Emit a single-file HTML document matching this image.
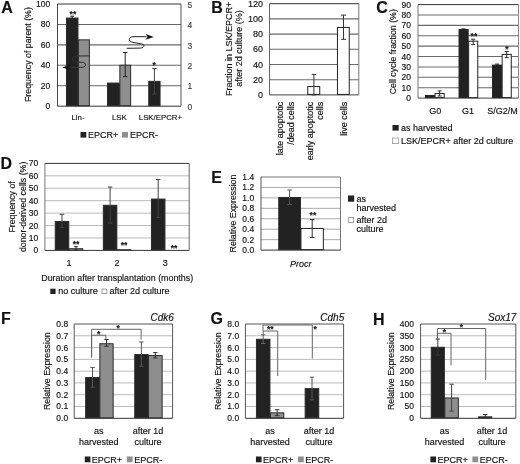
<!DOCTYPE html><html><head><meta charset="utf-8"><style>html,body{margin:0;padding:0;background:#fff;}svg{display:block;will-change:transform;filter:blur(0.35px);}text{font-family:"Liberation Sans", sans-serif;fill:#111;stroke:#111;stroke-width:0.15px;}</style></head><body>
<svg width="520" height="464" viewBox="0 0 520 464">
<rect width="520" height="464" fill="#fff"/>
<text x="1.2" y="13.3" font-size="16" text-anchor="start" font-weight="bold">A</text>
<line x1="57.5" y1="85.76" x2="181" y2="85.76" stroke="#666" stroke-width="1.1"/>
<line x1="57.5" y1="65.32" x2="181" y2="65.32" stroke="#666" stroke-width="1.1"/>
<line x1="57.5" y1="44.88" x2="181" y2="44.88" stroke="#666" stroke-width="1.1"/>
<line x1="57.5" y1="24.44" x2="181" y2="24.44" stroke="#666" stroke-width="1.1"/>
<line x1="57.5" y1="4" x2="181" y2="4" stroke="#333" stroke-width="1"/>
<line x1="181" y1="4" x2="181" y2="106.2" stroke="#555" stroke-width="1"/>
<line x1="57.5" y1="106.2" x2="181" y2="106.2" stroke="#333" stroke-width="1"/>
<line x1="57.5" y1="4" x2="57.5" y2="106.2" stroke="#444" stroke-width="1"/>
<text x="50.2" y="6.97" font-size="8.5" text-anchor="end">100</text>
<text x="50.2" y="27.41" font-size="8.5" text-anchor="end">80</text>
<text x="50.2" y="47.86" font-size="8.5" text-anchor="end">60</text>
<text x="50.2" y="68.29" font-size="8.5" text-anchor="end">40</text>
<text x="50.2" y="88.73" font-size="8.5" text-anchor="end">20</text>
<text x="50.2" y="109.17" font-size="8.5" text-anchor="end">0</text>
<text x="187.5" y="7.68" font-size="8.5" text-anchor="start" style="fill:#444;stroke:#444">5</text>
<text x="187.5" y="28.12" font-size="8.5" text-anchor="start" style="fill:#444;stroke:#444">4</text>
<text x="187.5" y="48.56" font-size="8.5" text-anchor="start" style="fill:#444;stroke:#444">3</text>
<text x="187.5" y="69" font-size="8.5" text-anchor="start" style="fill:#444;stroke:#444">2</text>
<text x="187.5" y="89.44" font-size="8.5" text-anchor="start" style="fill:#444;stroke:#444">1</text>
<text x="187.5" y="109.88" font-size="8.5" text-anchor="start" style="fill:#444;stroke:#444">0</text>
<rect x="66.45" y="18.05" width="11.5" height="87.65" fill="#222" stroke="#2a2a2a" stroke-width="1"/>
<rect x="78.45" y="39.85" width="10.9" height="65.85" fill="#8e8e8e" stroke="#2a2a2a" stroke-width="1"/>
<rect x="107.55" y="83.05" width="11.8" height="22.65" fill="#222" stroke="#2a2a2a" stroke-width="1"/>
<rect x="119.85" y="65.25" width="10.8" height="40.45" fill="#8e8e8e" stroke="#2a2a2a" stroke-width="1"/>
<rect x="148.75" y="81.35" width="11.3" height="24.35" fill="#222" stroke="#2a2a2a" stroke-width="1"/>
<line x1="72.2" y1="16.2" x2="72.2" y2="19.5" stroke="#222" stroke-width="1"/>
<line x1="70.2" y1="16.2" x2="74.2" y2="16.2" stroke="#222" stroke-width="1"/>
<line x1="70.2" y1="19.5" x2="74.2" y2="19.5" stroke="#222" stroke-width="1"/>
<line x1="125.2" y1="52.5" x2="125.2" y2="76.6" stroke="#222" stroke-width="1"/>
<line x1="122.95" y1="52.5" x2="127.45" y2="52.5" stroke="#222" stroke-width="1"/>
<line x1="122.95" y1="76.6" x2="127.45" y2="76.6" stroke="#222" stroke-width="1"/>
<line x1="154.4" y1="68.6" x2="154.4" y2="94.1" stroke="#444" stroke-width="1"/>
<line x1="152.15" y1="68.6" x2="156.65" y2="68.6" stroke="#444" stroke-width="1"/>
<line x1="152.15" y1="94.1" x2="156.65" y2="94.1" stroke="#444" stroke-width="1"/>
<text x="72.9" y="16.75" font-size="8.5" text-anchor="middle" font-weight="bold">**</text>
<text x="154.2" y="67.75" font-size="8.5" text-anchor="middle" font-weight="bold">*</text>
<path d="M126.75,48.3 L140.3,48.1 C145,47.8 145.2,43.9 140.3,43.7 L133,42.4 C128,41.5 128.2,36.9 133,36.7 L146.5,36.7" fill="none" stroke="#222" stroke-width="1"/><path d="M153.8,36.9 L145.6,33.9 L147.6,36.9 L145.4,39.8 Z" fill="#111"/>
<defs><clipPath id="cpA"><rect x="66" y="40" width="12.4" height="40"/></clipPath><clipPath id="cpB"><rect x="78.4" y="40" width="20" height="40"/></clipPath></defs>
<path d="M88.8,55.9 L76,56 C71.3,56.2 71.3,61.9 76,62.1 L82.3,62.3 C86.6,62.5 86.6,67.1 82.3,67.3 L68.5,67.3" fill="none" stroke="#3a3a3a" stroke-width="1" clip-path="url(#cpA)"/>
<path d="M88.8,55.9 L76,56 C71.3,56.2 71.3,61.9 76,62.1 L82.3,62.3 C86.6,62.5 86.6,67.1 82.3,67.3 L68.5,67.3" fill="none" stroke="#2a2a2a" stroke-width="1" clip-path="url(#cpB)"/>
<path d="M62,67.4 L71.2,64.5 L69,67.4 L71.2,70.3 Z" fill="#111"/>
<text x="78" y="120" font-size="7.8" text-anchor="middle">Lin-</text>
<text x="119.4" y="120" font-size="7.8" text-anchor="middle">LSK</text>
<text x="160.4" y="120" font-size="7.8" text-anchor="middle">LSK/EPCR+</text>
<text transform="translate(28,54.6) rotate(-90)" x="0" y="3.08" font-size="8.8" text-anchor="middle">Frequency of parent (%)</text>
<rect x="80.5" y="132" width="5.8" height="5.6" fill="#222"/>
<text x="88" y="138.4" font-size="9" text-anchor="start">EPCR+</text>
<rect x="122" y="132" width="6" height="5.6" fill="#8e8e8e"/>
<text x="130" y="138.4" font-size="9" text-anchor="start">EPCR-</text>
<text x="211.3" y="12.7" font-size="16" text-anchor="start" font-weight="bold">B</text>
<line x1="269.5" y1="79.7" x2="358.8" y2="79.7" stroke="#6a6a6a" stroke-width="1.1"/>
<line x1="269.5" y1="64.5" x2="358.8" y2="64.5" stroke="#6a6a6a" stroke-width="1.1"/>
<line x1="269.5" y1="49.3" x2="358.8" y2="49.3" stroke="#6a6a6a" stroke-width="1.1"/>
<line x1="269.5" y1="34.1" x2="358.8" y2="34.1" stroke="#6a6a6a" stroke-width="1.1"/>
<line x1="269.5" y1="18.9" x2="358.8" y2="18.9" stroke="#6a6a6a" stroke-width="1.1"/>
<line x1="269.5" y1="3.7" x2="358.8" y2="3.7" stroke="#333" stroke-width="1"/>
<line x1="358.8" y1="3.7" x2="358.8" y2="94.9" stroke="#777" stroke-width="1"/>
<line x1="269.5" y1="94.9" x2="358.8" y2="94.9" stroke="#444" stroke-width="1"/>
<line x1="269.5" y1="3.7" x2="269.5" y2="94.9" stroke="#666" stroke-width="1"/>
<text x="263" y="6.85" font-size="9" text-anchor="end">120</text>
<text x="263" y="22.05" font-size="9" text-anchor="end">100</text>
<text x="263" y="37.25" font-size="9" text-anchor="end">80</text>
<text x="263" y="52.45" font-size="9" text-anchor="end">60</text>
<text x="263" y="67.65" font-size="9" text-anchor="end">40</text>
<text x="263" y="82.85" font-size="9" text-anchor="end">20</text>
<text x="263" y="98.05" font-size="9" text-anchor="end">0</text>
<rect x="307.75" y="86.55" width="12" height="7.85" fill="#fff" stroke="#222" stroke-width="1"/>
<rect x="337.45" y="27.45" width="11.8" height="66.95" fill="#fff" stroke="#222" stroke-width="1"/>
<line x1="313.9" y1="74.4" x2="313.9" y2="94.9" stroke="#333" stroke-width="1"/>
<line x1="311.65" y1="74.4" x2="316.15" y2="74.4" stroke="#333" stroke-width="1"/>
<line x1="311.65" y1="94.9" x2="316.15" y2="94.9" stroke="#333" stroke-width="1"/>
<line x1="343.5" y1="15.1" x2="343.5" y2="39.3" stroke="#333" stroke-width="1"/>
<line x1="341" y1="15.1" x2="346" y2="15.1" stroke="#333" stroke-width="1"/>
<line x1="341" y1="39.3" x2="346" y2="39.3" stroke="#333" stroke-width="1"/>
<text transform="translate(229.2,48.8) rotate(-90)" x="0" y="3.15" font-size="9" text-anchor="middle">Fraction in LSK/EPCR+</text>
<text transform="translate(239.2,48.5) rotate(-90)" x="0" y="3.15" font-size="9" text-anchor="middle">after 2d culture (%)</text>
<text transform="translate(279.6,101.8) rotate(-90)" x="0" y="3.15" font-size="9" text-anchor="end">late apoptotic</text>
<text transform="translate(291,101.8) rotate(-90)" x="0" y="3.15" font-size="9" text-anchor="end">/dead cells</text>
<text transform="translate(309.4,101.8) rotate(-90)" x="0" y="3.15" font-size="9" text-anchor="end">early apoptotic</text>
<text transform="translate(319.4,101.8) rotate(-90)" x="0" y="3.15" font-size="9" text-anchor="end">cells</text>
<text transform="translate(343.8,101.8) rotate(-90)" x="0" y="3.15" font-size="9" text-anchor="end">live cells</text>
<text x="376.3" y="13" font-size="16" text-anchor="start" font-weight="bold">C</text>
<line x1="418" y1="87.71" x2="518.5" y2="87.71" stroke="#6a6a6a" stroke-width="1.1"/>
<line x1="418" y1="77.32" x2="518.5" y2="77.32" stroke="#6a6a6a" stroke-width="1.1"/>
<line x1="418" y1="66.93" x2="518.5" y2="66.93" stroke="#6a6a6a" stroke-width="1.1"/>
<line x1="418" y1="56.54" x2="518.5" y2="56.54" stroke="#6a6a6a" stroke-width="1.1"/>
<line x1="418" y1="46.16" x2="518.5" y2="46.16" stroke="#6a6a6a" stroke-width="1.1"/>
<line x1="418" y1="35.77" x2="518.5" y2="35.77" stroke="#6a6a6a" stroke-width="1.1"/>
<line x1="418" y1="25.38" x2="518.5" y2="25.38" stroke="#6a6a6a" stroke-width="1.1"/>
<line x1="418" y1="14.99" x2="518.5" y2="14.99" stroke="#6a6a6a" stroke-width="1.1"/>
<line x1="418" y1="4.6" x2="518.5" y2="4.6" stroke="#333" stroke-width="1"/>
<line x1="518.5" y1="4.6" x2="518.5" y2="98.1" stroke="#888" stroke-width="1"/>
<line x1="418" y1="98.1" x2="518.5" y2="98.1" stroke="#444" stroke-width="1"/>
<line x1="418" y1="4.6" x2="418" y2="98.1" stroke="#777" stroke-width="1"/>
<text x="411" y="7.57" font-size="8.5" text-anchor="end">90</text>
<text x="411" y="17.96" font-size="8.5" text-anchor="end">80</text>
<text x="411" y="28.35" font-size="8.5" text-anchor="end">70</text>
<text x="411" y="38.74" font-size="8.5" text-anchor="end">60</text>
<text x="411" y="49.13" font-size="8.5" text-anchor="end">50</text>
<text x="411" y="59.52" font-size="8.5" text-anchor="end">40</text>
<text x="411" y="69.91" font-size="8.5" text-anchor="end">30</text>
<text x="411" y="80.3" font-size="8.5" text-anchor="end">20</text>
<text x="411" y="90.69" font-size="8.5" text-anchor="end">10</text>
<text x="411" y="101.07" font-size="8.5" text-anchor="end">0</text>
<rect x="425.45" y="95.54" width="9.1" height="2.06" fill="#222" stroke="#222" stroke-width="1"/>
<rect x="435.05" y="93.47" width="9.1" height="4.13" fill="#fff" stroke="#222" stroke-width="1"/>
<line x1="439.6" y1="90.9" x2="439.6" y2="96" stroke="#333" stroke-width="1"/>
<line x1="437.6" y1="90.9" x2="441.6" y2="90.9" stroke="#333" stroke-width="1"/>
<line x1="437.6" y1="96" x2="441.6" y2="96" stroke="#333" stroke-width="1"/>
<rect x="459.05" y="29.58" width="9.1" height="68.02" fill="#222" stroke="#222" stroke-width="1"/>
<rect x="468.65" y="41.21" width="9.1" height="56.39" fill="#fff" stroke="#222" stroke-width="1"/>
<line x1="463.6" y1="28.9" x2="463.6" y2="31" stroke="#222" stroke-width="1"/>
<line x1="461.6" y1="28.9" x2="465.6" y2="28.9" stroke="#222" stroke-width="1"/>
<line x1="461.6" y1="31" x2="465.6" y2="31" stroke="#222" stroke-width="1"/>
<line x1="473.2" y1="39.2" x2="473.2" y2="44.6" stroke="#333" stroke-width="1"/>
<line x1="471.2" y1="39.2" x2="475.2" y2="39.2" stroke="#333" stroke-width="1"/>
<line x1="471.2" y1="44.6" x2="475.2" y2="44.6" stroke="#333" stroke-width="1"/>
<text x="473.9" y="38.65" font-size="8.5" text-anchor="middle" font-weight="bold">**</text>
<rect x="492.55" y="65.11" width="9.1" height="32.49" fill="#222" stroke="#222" stroke-width="1"/>
<rect x="502.15" y="54.4" width="9.1" height="43.2" fill="#fff" stroke="#222" stroke-width="1"/>
<line x1="497.1" y1="64.1" x2="497.1" y2="66.3" stroke="#222" stroke-width="1"/>
<line x1="495.1" y1="64.1" x2="499.1" y2="64.1" stroke="#222" stroke-width="1"/>
<line x1="495.1" y1="66.3" x2="499.1" y2="66.3" stroke="#222" stroke-width="1"/>
<line x1="506.7" y1="51.5" x2="506.7" y2="57.7" stroke="#333" stroke-width="1"/>
<line x1="504.7" y1="51.5" x2="508.7" y2="51.5" stroke="#333" stroke-width="1"/>
<line x1="504.7" y1="57.7" x2="508.7" y2="57.7" stroke="#333" stroke-width="1"/>
<text x="507" y="52.25" font-size="8.5" text-anchor="middle" font-weight="bold">*</text>
<text x="435.3" y="113.8" font-size="9" text-anchor="middle">G0</text>
<text x="468.1" y="113.8" font-size="9" text-anchor="middle">G1</text>
<text x="502.5" y="113.8" font-size="9" text-anchor="middle">S/G2/M</text>
<text transform="translate(393,51.7) rotate(-90)" x="0" y="3.08" font-size="8.8" text-anchor="middle">Cell cycle fraction (%)</text>
<rect x="392.5" y="125" width="6.2" height="5.6" fill="#222"/>
<text x="400.9" y="131.2" font-size="9" text-anchor="start">as harvested</text>
<rect x="392.5" y="138" width="5.9" height="5.6" fill="#fff" stroke="#999" stroke-width="0.8"/>
<text x="400.9" y="144" font-size="9" text-anchor="start">LSK/EPCR+ after 2d culture</text>
<text x="0.4" y="169.1" font-size="16" text-anchor="start" font-weight="bold">D</text>
<line x1="44.9" y1="237.97" x2="189.2" y2="237.97" stroke="#bbb" stroke-width="1"/>
<line x1="44.9" y1="225.54" x2="189.2" y2="225.54" stroke="#bbb" stroke-width="1"/>
<line x1="44.9" y1="213.11" x2="189.2" y2="213.11" stroke="#bbb" stroke-width="1"/>
<line x1="44.9" y1="200.69" x2="189.2" y2="200.69" stroke="#bbb" stroke-width="1"/>
<line x1="44.9" y1="188.26" x2="189.2" y2="188.26" stroke="#bbb" stroke-width="1"/>
<line x1="44.9" y1="175.83" x2="189.2" y2="175.83" stroke="#bbb" stroke-width="1"/>
<line x1="44.9" y1="163.4" x2="189.2" y2="163.4" stroke="#333" stroke-width="1"/>
<line x1="189.2" y1="163.4" x2="189.2" y2="250.4" stroke="#666" stroke-width="1"/>
<line x1="44.9" y1="250.4" x2="189.2" y2="250.4" stroke="#333" stroke-width="1"/>
<line x1="44.9" y1="163.4" x2="44.9" y2="250.4" stroke="#777" stroke-width="1"/>
<text x="38.2" y="166.38" font-size="8.5" text-anchor="end">70</text>
<text x="38.2" y="178.8" font-size="8.5" text-anchor="end">60</text>
<text x="38.2" y="191.23" font-size="8.5" text-anchor="end">50</text>
<text x="38.2" y="203.66" font-size="8.5" text-anchor="end">40</text>
<text x="38.2" y="216.09" font-size="8.5" text-anchor="end">30</text>
<text x="38.2" y="228.52" font-size="8.5" text-anchor="end">20</text>
<text x="38.2" y="240.95" font-size="8.5" text-anchor="end">10</text>
<text x="38.2" y="253.38" font-size="8.5" text-anchor="end">0</text>
<rect x="55.25" y="221.44" width="13.5" height="28.46" fill="#222" stroke="#2a2a2a" stroke-width="1"/>
<line x1="62" y1="214.36" x2="62" y2="227.41" stroke="#444" stroke-width="1"/>
<line x1="59.75" y1="214.36" x2="64.25" y2="214.36" stroke="#444" stroke-width="1"/>
<line x1="59.75" y1="227.41" x2="64.25" y2="227.41" stroke="#444" stroke-width="1"/>
<rect x="69.25" y="248.66" width="13.5" height="1.24" fill="#fff" stroke="#333" stroke-width="1"/>
<rect x="103.35" y="205.29" width="13.5" height="44.61" fill="#222" stroke="#2a2a2a" stroke-width="1"/>
<line x1="110.1" y1="187.01" x2="110.1" y2="223.06" stroke="#444" stroke-width="1"/>
<line x1="107.85" y1="187.01" x2="112.35" y2="187.01" stroke="#444" stroke-width="1"/>
<line x1="107.85" y1="223.06" x2="112.35" y2="223.06" stroke="#444" stroke-width="1"/>
<rect x="117.35" y="249.66" width="13.5" height="0.24" fill="#fff" stroke="#333" stroke-width="1"/>
<rect x="151.45" y="199.07" width="13.5" height="50.83" fill="#222" stroke="#2a2a2a" stroke-width="1"/>
<line x1="158.2" y1="179.56" x2="158.2" y2="217.46" stroke="#444" stroke-width="1"/>
<line x1="155.95" y1="179.56" x2="160.45" y2="179.56" stroke="#444" stroke-width="1"/>
<line x1="155.95" y1="217.46" x2="160.45" y2="217.46" stroke="#444" stroke-width="1"/>
<line x1="76" y1="246.67" x2="76" y2="250.03" stroke="#333" stroke-width="1"/>
<line x1="74" y1="246.67" x2="78" y2="246.67" stroke="#333" stroke-width="1"/>
<line x1="74" y1="250.03" x2="78" y2="250.03" stroke="#333" stroke-width="1"/>
<text x="76" y="246.55" font-size="8.5" text-anchor="middle" font-weight="bold">**</text>
<text x="124.1" y="247.95" font-size="8.5" text-anchor="middle" font-weight="bold">**</text>
<text x="174" y="251.05" font-size="8.5" text-anchor="middle" font-weight="bold">**</text>
<text x="69" y="265.8" font-size="9" text-anchor="middle">1</text>
<text x="117.1" y="265.8" font-size="9" text-anchor="middle">2</text>
<text x="165.2" y="265.8" font-size="9" text-anchor="middle">3</text>
<text x="117.2" y="280.6" font-size="8.9" text-anchor="middle">Duration after transplantation (months)</text>
<rect x="50.3" y="288.7" width="5.3" height="5.3" fill="#222"/>
<text x="58.2" y="294.3" font-size="9" text-anchor="start">no culture</text>
<rect x="102" y="289.1" width="4.8" height="4.5" fill="#fff" stroke="#888" stroke-width="0.8"/>
<text x="109.4" y="294.3" font-size="9" text-anchor="start">after 2d culture</text>
<text transform="translate(12.3,206.9) rotate(-90)" x="0" y="3.08" font-size="8.8" text-anchor="middle">Frequency of</text>
<text transform="translate(23.2,206.9) rotate(-90)" x="0" y="3.08" font-size="8.8" text-anchor="middle">donor-derived cells (%)</text>
<text x="211.2" y="183.3" font-size="16" text-anchor="start" font-weight="bold">E</text>
<line x1="261" y1="239.66" x2="340.5" y2="239.66" stroke="#aaa" stroke-width="1"/>
<line x1="261" y1="229.21" x2="340.5" y2="229.21" stroke="#aaa" stroke-width="1"/>
<line x1="261" y1="218.77" x2="340.5" y2="218.77" stroke="#aaa" stroke-width="1"/>
<line x1="261" y1="208.33" x2="340.5" y2="208.33" stroke="#aaa" stroke-width="1"/>
<line x1="261" y1="197.89" x2="340.5" y2="197.89" stroke="#aaa" stroke-width="1"/>
<line x1="261" y1="187.44" x2="340.5" y2="187.44" stroke="#aaa" stroke-width="1"/>
<line x1="261" y1="177" x2="340.5" y2="177" stroke="#777" stroke-width="1"/>
<line x1="340.5" y1="177" x2="340.5" y2="250.1" stroke="#777" stroke-width="1"/>
<line x1="261" y1="250.1" x2="340.5" y2="250.1" stroke="#333" stroke-width="1"/>
<line x1="261" y1="177" x2="261" y2="250.1" stroke="#555" stroke-width="1"/>
<text x="254.2" y="179.97" font-size="8.5" text-anchor="end">1.4</text>
<text x="254.2" y="190.42" font-size="8.5" text-anchor="end">1.2</text>
<text x="254.2" y="200.86" font-size="8.5" text-anchor="end">1.0</text>
<text x="254.2" y="211.3" font-size="8.5" text-anchor="end">0.8</text>
<text x="254.2" y="221.75" font-size="8.5" text-anchor="end">0.6</text>
<text x="254.2" y="232.19" font-size="8.5" text-anchor="end">0.4</text>
<text x="254.2" y="242.63" font-size="8.5" text-anchor="end">0.2</text>
<text x="254.2" y="253.07" font-size="8.5" text-anchor="end">0.0</text>
<rect x="278.75" y="197.45" width="21.7" height="52.15" fill="#222" stroke="#2a2a2a" stroke-width="1"/>
<line x1="289.6" y1="190" x2="289.6" y2="204.5" stroke="#555" stroke-width="1"/>
<line x1="287.35" y1="190" x2="291.85" y2="190" stroke="#555" stroke-width="1"/>
<line x1="287.35" y1="204.5" x2="291.85" y2="204.5" stroke="#555" stroke-width="1"/>
<rect x="300.95" y="228.45" width="22.4" height="21.15" fill="#fff" stroke="#222" stroke-width="1"/>
<line x1="312.2" y1="219.5" x2="312.2" y2="237.5" stroke="#333" stroke-width="1"/>
<line x1="309.95" y1="219.5" x2="314.45" y2="219.5" stroke="#333" stroke-width="1"/>
<line x1="309.95" y1="237.5" x2="314.45" y2="237.5" stroke="#333" stroke-width="1"/>
<text x="312.9" y="218.25" font-size="8.5" text-anchor="middle" font-weight="bold">**</text>
<text x="300.8" y="267.2" font-size="9" text-anchor="middle" font-style="italic">Procr</text>
<text transform="translate(232.5,213.5) rotate(-90)" x="0" y="3.08" font-size="8.8" text-anchor="middle">Relative Expression</text>
<rect x="348" y="195.5" width="6.2" height="6.2" fill="#222"/>
<text x="356.4" y="201.8" font-size="9" text-anchor="start">as</text>
<text x="356.4" y="211.2" font-size="9" text-anchor="start">harvested</text>
<rect x="348.7" y="217.4" width="4.9" height="5.2" fill="#fff" stroke="#888" stroke-width="0.8"/>
<text x="356.4" y="222.8" font-size="9" text-anchor="start">after 2d</text>
<text x="356.4" y="232.4" font-size="9" text-anchor="start">culture</text>
<text x="1.1" y="324.2" font-size="16" text-anchor="start" font-weight="bold">F</text>
<line x1="74.2" y1="406.51" x2="172.6" y2="406.51" stroke="#bbb" stroke-width="1"/>
<line x1="74.2" y1="394.73" x2="172.6" y2="394.73" stroke="#bbb" stroke-width="1"/>
<line x1="74.2" y1="382.94" x2="172.6" y2="382.94" stroke="#bbb" stroke-width="1"/>
<line x1="74.2" y1="371.15" x2="172.6" y2="371.15" stroke="#bbb" stroke-width="1"/>
<line x1="74.2" y1="359.36" x2="172.6" y2="359.36" stroke="#bbb" stroke-width="1"/>
<line x1="74.2" y1="347.57" x2="172.6" y2="347.57" stroke="#bbb" stroke-width="1"/>
<line x1="74.2" y1="335.79" x2="172.6" y2="335.79" stroke="#bbb" stroke-width="1"/>
<line x1="74.2" y1="324" x2="172.6" y2="324" stroke="#555" stroke-width="1"/>
<line x1="172.6" y1="324" x2="172.6" y2="418.3" stroke="#555" stroke-width="1"/>
<line x1="74.2" y1="418.3" x2="172.6" y2="418.3" stroke="#333" stroke-width="1"/>
<line x1="74.2" y1="324" x2="74.2" y2="418.3" stroke="#555" stroke-width="1"/>
<text x="68.2" y="326.98" font-size="8.5" text-anchor="end">0.8</text>
<text x="68.2" y="338.76" font-size="8.5" text-anchor="end">0.7</text>
<text x="68.2" y="350.55" font-size="8.5" text-anchor="end">0.6</text>
<text x="68.2" y="362.34" font-size="8.5" text-anchor="end">0.5</text>
<text x="68.2" y="374.12" font-size="8.5" text-anchor="end">0.4</text>
<text x="68.2" y="385.91" font-size="8.5" text-anchor="end">0.3</text>
<text x="68.2" y="397.7" font-size="8.5" text-anchor="end">0.2</text>
<text x="68.2" y="409.49" font-size="8.5" text-anchor="end">0.1</text>
<text x="68.2" y="421.28" font-size="8.5" text-anchor="end">0.0</text>
<rect x="85.65" y="377.55" width="13.7" height="40.25" fill="#222" stroke="#2a2a2a" stroke-width="1"/>
<rect x="99.85" y="343.75" width="13.3" height="74.05" fill="#8e8e8e" stroke="#2a2a2a" stroke-width="1"/>
<rect x="134.75" y="354.55" width="13.3" height="63.25" fill="#222" stroke="#2a2a2a" stroke-width="1"/>
<rect x="148.55" y="355.55" width="13.6" height="62.25" fill="#8e8e8e" stroke="#2a2a2a" stroke-width="1"/>
<line x1="92.5" y1="367.4" x2="92.5" y2="387.2" stroke="#555" stroke-width="1"/>
<line x1="90.25" y1="367.4" x2="94.75" y2="367.4" stroke="#555" stroke-width="1"/>
<line x1="90.25" y1="387.2" x2="94.75" y2="387.2" stroke="#555" stroke-width="1"/>
<line x1="106.5" y1="339.5" x2="106.5" y2="346.3" stroke="#333" stroke-width="1"/>
<line x1="104.25" y1="339.5" x2="108.75" y2="339.5" stroke="#333" stroke-width="1"/>
<line x1="104.25" y1="346.3" x2="108.75" y2="346.3" stroke="#333" stroke-width="1"/>
<line x1="141.4" y1="342" x2="141.4" y2="366.3" stroke="#555" stroke-width="1"/>
<line x1="139.15" y1="342" x2="143.65" y2="342" stroke="#555" stroke-width="1"/>
<line x1="139.15" y1="366.3" x2="143.65" y2="366.3" stroke="#555" stroke-width="1"/>
<line x1="155.3" y1="352.6" x2="155.3" y2="357.9" stroke="#333" stroke-width="1"/>
<line x1="153.05" y1="352.6" x2="157.55" y2="352.6" stroke="#333" stroke-width="1"/>
<line x1="153.05" y1="357.9" x2="157.55" y2="357.9" stroke="#333" stroke-width="1"/>
<polyline points="91.6,357.5 91.6,329.3 141.1,329.3 141.1,339.5" fill="none" stroke="#666" stroke-width="1"/>
<polyline points="91.6,357.5 91.6,335.2 105.8,335.2 105.8,339" fill="none" stroke="#666" stroke-width="1"/>
<text x="118.2" y="331.45" font-size="8.5" text-anchor="middle" font-weight="bold">*</text>
<text x="98.6" y="337.15" font-size="8.5" text-anchor="middle" font-weight="bold">*</text>
<text x="173.9" y="320.8" font-size="10" text-anchor="end" font-style="italic">Cdk6</text>
<text x="98.8" y="434.3" font-size="9" text-anchor="middle">as</text>
<text x="98.8" y="444.8" font-size="9" text-anchor="middle">harvested</text>
<text x="148" y="434.3" font-size="9" text-anchor="middle">after 1d</text>
<text x="148" y="444.8" font-size="9" text-anchor="middle">culture</text>
<text transform="translate(47,371.15) rotate(-90)" x="0" y="3.08" font-size="8.8" text-anchor="middle">Relative Expression</text>
<rect x="84.8" y="456.5" width="5.6" height="5.8" fill="#222"/>
<text x="91.8" y="462.8" font-size="9" text-anchor="start">EPCR+</text>
<rect x="126.8" y="456.5" width="5.8" height="5.8" fill="#8e8e8e"/>
<text x="134.2" y="462.8" font-size="9" text-anchor="start">EPCR-</text>
<text x="210.6" y="323.5" font-size="16" text-anchor="start" font-weight="bold">G</text>
<line x1="245.4" y1="406.51" x2="343.6" y2="406.51" stroke="#bbb" stroke-width="1"/>
<line x1="245.4" y1="394.73" x2="343.6" y2="394.73" stroke="#bbb" stroke-width="1"/>
<line x1="245.4" y1="382.94" x2="343.6" y2="382.94" stroke="#bbb" stroke-width="1"/>
<line x1="245.4" y1="371.15" x2="343.6" y2="371.15" stroke="#bbb" stroke-width="1"/>
<line x1="245.4" y1="359.36" x2="343.6" y2="359.36" stroke="#bbb" stroke-width="1"/>
<line x1="245.4" y1="347.57" x2="343.6" y2="347.57" stroke="#bbb" stroke-width="1"/>
<line x1="245.4" y1="335.79" x2="343.6" y2="335.79" stroke="#bbb" stroke-width="1"/>
<line x1="245.4" y1="324" x2="343.6" y2="324" stroke="#555" stroke-width="1"/>
<line x1="343.6" y1="324" x2="343.6" y2="418.3" stroke="#555" stroke-width="1"/>
<line x1="245.4" y1="418.3" x2="343.6" y2="418.3" stroke="#333" stroke-width="1"/>
<line x1="245.4" y1="324" x2="245.4" y2="418.3" stroke="#555" stroke-width="1"/>
<text x="239.2" y="326.98" font-size="8.5" text-anchor="end">8.0</text>
<text x="239.2" y="338.76" font-size="8.5" text-anchor="end">7.0</text>
<text x="239.2" y="350.55" font-size="8.5" text-anchor="end">6.0</text>
<text x="239.2" y="362.34" font-size="8.5" text-anchor="end">5.0</text>
<text x="239.2" y="374.12" font-size="8.5" text-anchor="end">4.0</text>
<text x="239.2" y="385.91" font-size="8.5" text-anchor="end">3.0</text>
<text x="239.2" y="397.7" font-size="8.5" text-anchor="end">2.0</text>
<text x="239.2" y="409.49" font-size="8.5" text-anchor="end">1.0</text>
<text x="239.2" y="421.28" font-size="8.5" text-anchor="end">0.0</text>
<rect x="256.45" y="339.25" width="13.5" height="78.55" fill="#222" stroke="#2a2a2a" stroke-width="1"/>
<rect x="270.45" y="412.85" width="13.3" height="4.95" fill="#8e8e8e" stroke="#2a2a2a" stroke-width="1"/>
<rect x="305.15" y="388.65" width="13.6" height="29.15" fill="#222" stroke="#2a2a2a" stroke-width="1"/>
<rect x="319.25" y="417.85" width="13.5" height="-0.05" fill="#8e8e8e" stroke="#2a2a2a" stroke-width="1"/>
<line x1="263.2" y1="334.8" x2="263.2" y2="343.5" stroke="#666" stroke-width="1"/>
<line x1="260.95" y1="334.8" x2="265.45" y2="334.8" stroke="#666" stroke-width="1"/>
<line x1="260.95" y1="343.5" x2="265.45" y2="343.5" stroke="#666" stroke-width="1"/>
<line x1="277.1" y1="409.7" x2="277.1" y2="415.6" stroke="#333" stroke-width="1"/>
<line x1="274.85" y1="409.7" x2="279.35" y2="409.7" stroke="#333" stroke-width="1"/>
<line x1="274.85" y1="415.6" x2="279.35" y2="415.6" stroke="#333" stroke-width="1"/>
<line x1="312" y1="377.2" x2="312" y2="399.9" stroke="#555" stroke-width="1"/>
<line x1="309.75" y1="377.2" x2="314.25" y2="377.2" stroke="#555" stroke-width="1"/>
<line x1="309.75" y1="399.9" x2="314.25" y2="399.9" stroke="#555" stroke-width="1"/>
<polyline points="263,331 263,325 312.3,325 312.3,358.5" fill="none" stroke="#666" stroke-width="1"/>
<polyline points="263.2,336 263.2,331 277.7,331 277.7,376.1" fill="none" stroke="#666" stroke-width="1"/>
<text x="315.2" y="331.95" font-size="8.5" text-anchor="middle" font-weight="bold">*</text>
<text x="270.2" y="332.25" font-size="8.5" text-anchor="middle" font-weight="bold">**</text>
<text x="344.2" y="320.8" font-size="10" text-anchor="end" font-style="italic">Cdh5</text>
<text x="269.95" y="434.3" font-size="9" text-anchor="middle">as</text>
<text x="269.95" y="444.8" font-size="9" text-anchor="middle">harvested</text>
<text x="319.05" y="434.3" font-size="9" text-anchor="middle">after 1d</text>
<text x="319.05" y="444.8" font-size="9" text-anchor="middle">culture</text>
<text transform="translate(217.7,371.15) rotate(-90)" x="0" y="3.08" font-size="8.8" text-anchor="middle">Relative Expression</text>
<rect x="255.95" y="456.5" width="5.6" height="5.8" fill="#222"/>
<text x="262.95" y="462.8" font-size="9" text-anchor="start">EPCR+</text>
<rect x="297.95" y="456.5" width="5.8" height="5.8" fill="#8e8e8e"/>
<text x="305.35" y="462.8" font-size="9" text-anchor="start">EPCR-</text>
<text x="373" y="325.1" font-size="16" text-anchor="start" font-weight="bold">H</text>
<line x1="420.6" y1="406.51" x2="515.8" y2="406.51" stroke="#bbb" stroke-width="1"/>
<line x1="420.6" y1="394.73" x2="515.8" y2="394.73" stroke="#bbb" stroke-width="1"/>
<line x1="420.6" y1="382.94" x2="515.8" y2="382.94" stroke="#bbb" stroke-width="1"/>
<line x1="420.6" y1="371.15" x2="515.8" y2="371.15" stroke="#bbb" stroke-width="1"/>
<line x1="420.6" y1="359.36" x2="515.8" y2="359.36" stroke="#bbb" stroke-width="1"/>
<line x1="420.6" y1="347.57" x2="515.8" y2="347.57" stroke="#bbb" stroke-width="1"/>
<line x1="420.6" y1="335.79" x2="515.8" y2="335.79" stroke="#bbb" stroke-width="1"/>
<line x1="420.6" y1="324" x2="515.8" y2="324" stroke="#555" stroke-width="1"/>
<line x1="515.8" y1="324" x2="515.8" y2="418.3" stroke="#555" stroke-width="1"/>
<line x1="420.6" y1="418.3" x2="515.8" y2="418.3" stroke="#333" stroke-width="1"/>
<line x1="420.6" y1="324" x2="420.6" y2="418.3" stroke="#555" stroke-width="1"/>
<text x="414" y="326.98" font-size="8.5" text-anchor="end">400</text>
<text x="414" y="338.76" font-size="8.5" text-anchor="end">350</text>
<text x="414" y="350.55" font-size="8.5" text-anchor="end">300</text>
<text x="414" y="362.34" font-size="8.5" text-anchor="end">250</text>
<text x="414" y="374.12" font-size="8.5" text-anchor="end">200</text>
<text x="414" y="385.91" font-size="8.5" text-anchor="end">150</text>
<text x="414" y="397.7" font-size="8.5" text-anchor="end">100</text>
<text x="414" y="409.49" font-size="8.5" text-anchor="end">50</text>
<text x="414" y="421.28" font-size="8.5" text-anchor="end">0</text>
<rect x="431.25" y="347.25" width="13.1" height="70.55" fill="#222" stroke="#2a2a2a" stroke-width="1"/>
<rect x="444.85" y="397.95" width="13.5" height="19.85" fill="#8e8e8e" stroke="#2a2a2a" stroke-width="1"/>
<rect x="478.65" y="416.85" width="13.1" height="0.95" fill="#222" stroke="#2a2a2a" stroke-width="1"/>
<line x1="437.8" y1="339" x2="437.8" y2="355" stroke="#3a3a3a" stroke-width="1"/>
<line x1="435.55" y1="339" x2="440.05" y2="339" stroke="#3a3a3a" stroke-width="1"/>
<line x1="435.55" y1="355" x2="440.05" y2="355" stroke="#3a3a3a" stroke-width="1"/>
<line x1="451.6" y1="384.2" x2="451.6" y2="411.1" stroke="#444" stroke-width="1"/>
<line x1="449.35" y1="384.2" x2="453.85" y2="384.2" stroke="#444" stroke-width="1"/>
<line x1="449.35" y1="411.1" x2="453.85" y2="411.1" stroke="#444" stroke-width="1"/>
<line x1="485.2" y1="414.5" x2="485.2" y2="418" stroke="#333" stroke-width="1"/>
<line x1="482.95" y1="414.5" x2="487.45" y2="414.5" stroke="#333" stroke-width="1"/>
<line x1="482.95" y1="418" x2="487.45" y2="418" stroke="#333" stroke-width="1"/>
<polyline points="437.4,339 437.4,328.5 485.7,328.5 485.7,380" fill="none" stroke="#666" stroke-width="1"/>
<polyline points="437.4,339 437.4,333.3 451,333.3 451,365.3" fill="none" stroke="#666" stroke-width="1"/>
<text x="461.3" y="329.65" font-size="8.5" text-anchor="middle" font-weight="bold">*</text>
<text x="444.4" y="335.25" font-size="8.5" text-anchor="middle" font-weight="bold">*</text>
<text x="516.4" y="320.8" font-size="10" text-anchor="end" font-style="italic">Sox17</text>
<text x="444.4" y="434.3" font-size="9" text-anchor="middle">as</text>
<text x="444.4" y="444.8" font-size="9" text-anchor="middle">harvested</text>
<text x="492" y="434.3" font-size="9" text-anchor="middle">after 1d</text>
<text x="492" y="444.8" font-size="9" text-anchor="middle">culture</text>
<text transform="translate(391.2,371.15) rotate(-90)" x="0" y="3.08" font-size="8.8" text-anchor="middle">Relative Expression</text>
<rect x="430.4" y="456.5" width="5.6" height="5.8" fill="#222"/>
<text x="437.4" y="462.8" font-size="9" text-anchor="start">EPCR+</text>
<rect x="472.4" y="456.5" width="5.8" height="5.8" fill="#8e8e8e"/>
<text x="479.8" y="462.8" font-size="9" text-anchor="start">EPCR-</text>
</svg></body></html>
